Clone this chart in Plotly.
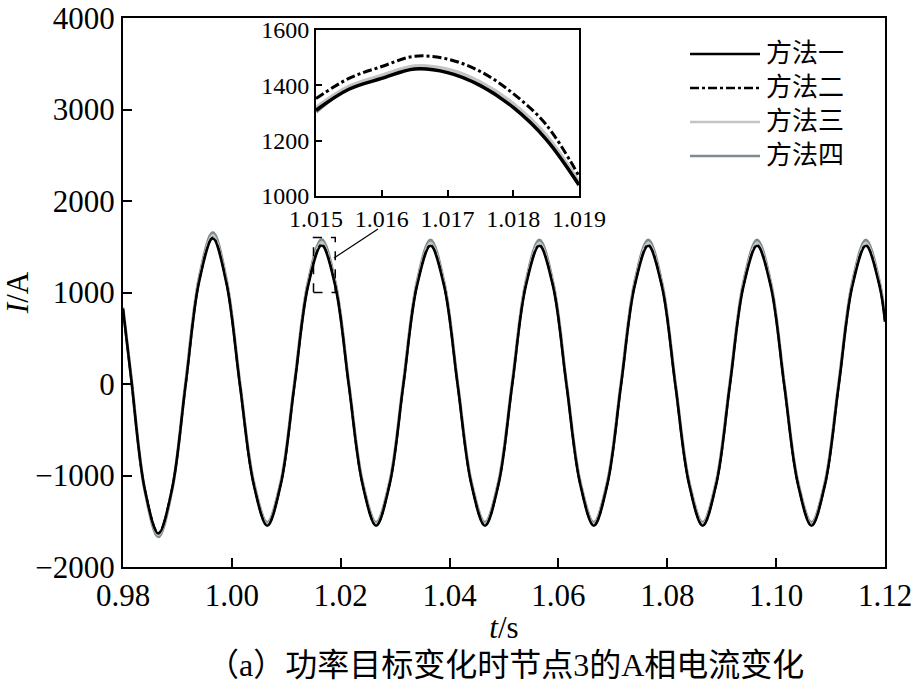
import numpy as np
import plotly.graph_objects as go

# ---------------- data ----------------
# main plot: samples at t = 0.98, then every 0.0025 s from 0.9815 to 1.119, then 1.12
t_main = [0.98] + [round(0.9815 + 0.0025 * k, 4) for k in range(56)] + [1.12]

m1 = [820,
      60, -1150, -1635, -1150, -15, 1120, 1590, 1100,
      -20, -1095, -1550, -1095, -15, 1070, 1515, 1070,
      -20, -1095, -1550, -1095, -15, 1068, 1510, 1068,
      -20, -1095, -1550, -1095, -15, 1068, 1510, 1068,
      -20, -1095, -1550, -1095, -15, 1068, 1510, 1068,
      -20, -1095, -1550, -1095, -15, 1068, 1510, 1068,
      -20, -1095, -1550, -1095, -15, 1068, 1510, 1068,
      680]
m2 = [825,
      65, -1145, -1625, -1145, -10, 1128, 1600, 1108,
      -15, -1090, -1545, -1090, -10, 1078, 1525, 1078,
      -15, -1090, -1545, -1090, -10, 1076, 1520, 1076,
      -15, -1090, -1545, -1090, -10, 1076, 1520, 1076,
      -15, -1090, -1545, -1090, -10, 1076, 1520, 1076,
      -15, -1090, -1545, -1090, -10, 1076, 1520, 1076,
      -15, -1090, -1545, -1090, -10, 1076, 1520, 1076,
      685]
m3 = [830,
      70, -1150, -1650, -1150, 0, 1140, 1625, 1120,
      -10, -1080, -1530, -1080, 0, 1090, 1550, 1090,
      -10, -1080, -1530, -1080, 0, 1090, 1545, 1090,
      -10, -1080, -1530, -1080, 0, 1090, 1545, 1090,
      -10, -1080, -1530, -1080, 0, 1090, 1545, 1090,
      -10, -1080, -1530, -1080, 0, 1090, 1545, 1090,
      -10, -1080, -1530, -1080, 0, 1090, 1545, 1090,
      695]
m4 = [835,
      75, -1160, -1670, -1160, 10, 1160, 1655, 1140,
      0, -1070, -1515, -1070, 10, 1110, 1580, 1110,
      0, -1070, -1515, -1070, 10, 1108, 1575, 1108,
      0, -1070, -1515, -1070, 10, 1108, 1575, 1108,
      0, -1070, -1515, -1070, 10, 1108, 1575, 1108,
      0, -1070, -1515, -1070, 10, 1108, 1575, 1108,
      0, -1070, -1515, -1070, 10, 1108, 1575, 1108,
      700]

# inset (zoom of the second peak)
t_zoom = [1.015, 1.0155, 1.016, 1.0165, 1.017, 1.0175, 1.018, 1.0185, 1.019]
z1 = [1310, 1386, 1425, 1459, 1446, 1399, 1320, 1205, 1040]
z2 = [1352, 1425, 1468, 1505, 1495, 1450, 1370, 1258, 1072]
z3 = [1320, 1396, 1436, 1470, 1458, 1412, 1334, 1220, 1050]
z4 = [1305, 1392, 1432, 1466, 1452, 1405, 1326, 1212, 1044]

names = ["方法一", "方法二", "方法三", "方法四"]
x_ticks = [0.98, 1.00, 1.02, 1.04, 1.06, 1.08, 1.10, 1.12]
x_ticklabels = ["0.98", "1.00", "1.02", "1.04", "1.06", "1.08", "1.10", "1.12"]
y_ticks = [-2000, -1000, 0, 1000, 2000, 3000, 4000]
y_ticklabels = ["\u22122000", "\u22121000", "0", "1000", "2000", "3000", "4000"]
zx_ticks = [1.015, 1.016, 1.017, 1.018, 1.019]
zy_ticks = [1000, 1200, 1400, 1600]
caption = "（a）功率目标变化时节点3的A相电流变化"

# ---------------- styles ----------------
FONT = "Liberation Serif, Noto Sans CJK SC, serif"
styles = {
    "方法一": dict(color="black", width=2.5, dash="solid"),
    "方法二": dict(color="black", width=2, dash="dashdot"),
    "方法三": dict(color="#c4c4c4", width=2.5, dash="solid"),
    "方法四": dict(color="#7d8b8f", width=3, dash="solid"),
}

W, H = 917, 686
L, R, T, B = 123, 32, 18, 119
PH = H - T - B          # plot height in px
PW = W - L - R          # plot width in px
BOT = H - B             # pixel row of the plot bottom


def px_x(px):
    return (px - L) / PW


def px_y(py):
    return (BOT - py) / PH


fig = go.Figure()
main_series = dict(zip(names, [m1, m2, m3, m4]))
zoom_series = dict(zip(names, [z1, z2, z3, z4]))
draw_order = ["方法四", "方法三", "方法二", "方法一"]

for nm in draw_order:
    st = styles[nm]
    fig.add_trace(go.Scatter(
        x=t_main, y=main_series[nm], mode="lines", name=nm, showlegend=False,
        line=dict(color=st["color"], width=st["width"], dash=st["dash"], shape="spline", smoothing=1.0),
        xaxis="x", yaxis="y"))
for nm in draw_order:
    st = styles[nm]
    fig.add_trace(go.Scatter(
        x=t_zoom, y=zoom_series[nm], mode="lines", name=nm, showlegend=False,
        line=dict(color=st["color"], width=st["width"] + 1, dash=st["dash"], shape="spline", smoothing=1.0),
        xaxis="x2", yaxis="y2"))

axis_common = dict(showline=True, linecolor="black", linewidth=2, mirror=True, automargin=False,
                   ticks="inside", tickcolor="black", showgrid=False, zeroline=False,
                   ticklabeloverflow="allow")

fig.update_layout(
    width=W, height=H,
    margin=dict(l=L, r=R, t=T, b=B),
    paper_bgcolor="white", plot_bgcolor="white",
    font=dict(family=FONT, color="black"),
    xaxis=dict(range=[0.98, 1.12], tickvals=x_ticks, ticktext=x_ticklabels,
               ticklen=9, tickwidth=1.5, tickfont=dict(size=31, family=FONT),
               title=dict(text="<i>t</i>/s", font=dict(size=31, family=FONT), standoff=4),
               domain=[0, 1], **axis_common),
    yaxis=dict(range=[-2000, 4000], tickvals=y_ticks, ticktext=y_ticklabels,
               ticklen=9, tickwidth=1.5, tickfont=dict(size=31, family=FONT),
               title=dict(text="<i>I</i>/A", font=dict(size=31, family=FONT), standoff=2),
               domain=[0, 1], **axis_common),
    xaxis2=dict(range=[1.015, 1.019], tickvals=zx_ticks, ticktext=[f"{v:.3f}" for v in zx_ticks],
                ticklen=6, tickwidth=1.5, tickfont=dict(size=24, family=FONT),
                domain=[px_x(316), px_x(579)], anchor="y2", **axis_common),
    yaxis2=dict(range=[1000, 1600], tickvals=zy_ticks, ticktext=[str(v) for v in zy_ticks],
                ticklen=6, tickwidth=1.5, tickfont=dict(size=24, family=FONT),
                domain=[px_y(196), px_y(30)], anchor="x2", **axis_common),
    showlegend=False,
)

# legend drawn as sample lines + labels (top right)
leg_rows_px = [54, 88, 122, 156]
for nm, ypx in zip(names, leg_rows_px):
    st = styles[nm]
    yp = px_y(ypx)
    fig.add_shape(type="line", xref="paper", yref="paper", x0=px_x(690), x1=px_x(760), y0=yp, y1=yp,
                  line=dict(color=st["color"], width=2.5, dash=st["dash"]))
    fig.add_annotation(text=nm, xref="paper", yref="paper", x=px_x(764), y=yp,
                       xanchor="left", yanchor="middle", showarrow=False,
                       font=dict(size=26, family=FONT, color="black"))

# dashed zoom box and connector
fig.add_shape(type="rect", xref="x", yref="y", x0=1.015, x1=1.019, y0=1000, y1=1600,
              line=dict(color="black", width=1.5, dash="dash"))
fig.add_shape(type="line", xref="paper", yref="paper", x0=px_x(334), y0=px_y(258),
              x1=px_x(378), y1=px_y(229), line=dict(color="black", width=1.2))

fig.add_annotation(text=caption, xref="paper", yref="paper", x=px_x(506), y=px_y(665),
                   xanchor="center", yanchor="middle", showarrow=False,
                   font=dict(size=32, family=FONT, color="black"))

fig.write_html("out.html")
